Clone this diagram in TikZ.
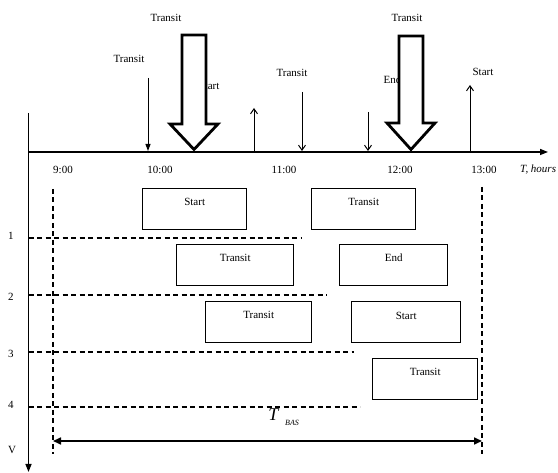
\documentclass[tikz,border=0pt]{standalone}
\usepackage{fontspec}
\setmainfont{Liberation Serif}
\usetikzlibrary{arrows.meta}
\begin{document}
\begin{tikzpicture}[x=1pt,y=-1pt,
  lbl/.style={inner sep=0pt,font=\fontsize{11}{13}\selectfont},
  boxnode/.style={draw,line width=1.4pt,minimum width=#1,minimum height=41pt,inner sep=0pt,anchor=north west},
  dline/.style={line width=1.2pt,dash pattern=on 5pt off 3.5pt},
  axis/.style={line width=1.4pt,-{Triangle[length=8pt,width=6pt]}},
  openarr/.style={line width=1pt,-{Straight Barb[length=5pt,width=7pt]}},
  fillarr/.style={line width=1pt,-{Triangle[length=7pt,width=5pt]}},
  bigarrow/.style={line width=2.8pt,fill=white,line join=miter},
  dimarr/.style={line width=1.6pt,{Triangle[length=8pt,width=7pt]}-{Triangle[length=8pt,width=7pt]}}
  ]
\useasboundingbox (0,0) rectangle (558,473);

% axes
\coordinate (vtop) at (28.5,113);
\coordinate (vbot) at (28.5,472);
\coordinate (hl) at (28.5,152);
\coordinate (hr) at (548,152);
\draw[axis] (vtop) -- (vbot);
\draw[axis] (hl) -- (hr);

% tick labels
\node[lbl] (t9) at (63,170) {9:00};
\node[lbl] (t10) at (160,170) {10:00};
\node[lbl] (t11) at (284,170) {11:00};
\node[lbl] (t12) at (400,170) {12:00};
\node[lbl] (t13) at (484,170) {13:00};
\node[lbl,anchor=west] (th) at (520,170) {\itshape T, hours};

% row labels
\node[lbl] (r1) at (11,236) {1};
\node[lbl] (r2) at (11,297) {2};
\node[lbl] (r3) at (11,354) {3};
\node[lbl] (r4) at (11,405) {4};
\node[lbl] (rv) at (12,450) {V};

% dashed row lines
\coordinate (d1a) at (28.5,238); \coordinate (d1b) at (302,238);
\coordinate (d2a) at (28.5,295); \coordinate (d2b) at (327,295);
\coordinate (d3a) at (28.5,352); \coordinate (d3b) at (354,352);
\coordinate (d4a) at (28.5,407); \coordinate (d4b) at (360,407);
\draw[dline] (d1a) -- (d1b);
\draw[dline] (d2a) -- (d2b);
\draw[dline] (d3a) -- (d3b);
\draw[dline] (d4a) -- (d4b);

% dashed vertical lines
\coordinate (v9a) at (53,189); \coordinate (v9b) at (53,454);
\coordinate (v13a) at (482,187); \coordinate (v13b) at (482,454);
\draw[dline] (v9a) -- (v9b);
\draw[dline] (v13a) -- (v13b);

% boxes
\node[boxnode=104pt] (b1) at (142,188) {};
\node[lbl] at ([yshift=-14pt]b1.north) {Start};
\node[boxnode=104pt] (b2) at (311,188) {};
\node[lbl] at ([yshift=-14pt]b2.north) {Transit};
\node[boxnode=117pt] (b3) at (176,244) {};
\node[lbl] at ([yshift=-14pt]b3.north) {Transit};
\node[boxnode=108pt] (b4) at (339,244) {};
\node[lbl] at ([yshift=-14pt]b4.north) {End};
\node[boxnode=106pt] (b5) at (205,301) {};
\node[lbl] at ([yshift=-14pt]b5.north) {Transit};
\node[boxnode=109pt] (b6) at (351,301) {};
\node[lbl] at ([yshift=-15pt]b6.north) {Start};
\node[boxnode=105pt] (b7) at (372,358) {};
\node[lbl] at ([yshift=-14pt]b7.north) {Transit};

% T_BAS
\node[inner sep=0pt,font=\fontsize{18}{20}\selectfont\itshape] (tb) at (273.5,415) {T};
\node[inner sep=0pt,font=\fontsize{8}{9}\selectfont\itshape,anchor=west] (bas) at (285,423) {BAS};
\coordinate (tba) at (53,441);
\coordinate (tbb) at (482,441);
\draw[dimarr] (tba) -- (tbb);

% top events
\node[lbl] (l1) at (129,59) {Transit};
\coordinate (e1a) at (148,78); \coordinate (e1b) at (148,151);
\draw[fillarr] (e1a) -- (e1b);

\node[lbl] (l2) at (166,18) {Transit};
\node[lbl] (l3) at (209,86) {Start};
\coordinate (e3a) at (254,152); \coordinate (e3b) at (254,108);
\draw[openarr] (e3a) -- (e3b);

\node[lbl] (l4) at (292,73) {Transit};
\coordinate (e4a) at (302,92); \coordinate (e4b) at (302,151);
\draw[openarr] (e4a) -- (e4b);

\node[lbl] (l5) at (392.5,80) {End};
\coordinate (e5a) at (368,112); \coordinate (e5b) at (368,151);
\draw[openarr] (e5a) -- (e5b);

\node[lbl] (l6) at (407,18) {Transit};
\node[lbl] (l7) at (483,72) {Start};
\coordinate (e7a) at (470,152); \coordinate (e7b) at (470,85);
\draw[openarr] (e7a) -- (e7b);

% big hollow arrows
\draw[bigarrow] (182,35) -- (206,35) -- (206,124) -- (218,124) -- (194,149.5) -- (170,124) -- (182,124) -- cycle;
\draw[bigarrow] (399,36) -- (423,36) -- (423,123) -- (435,123) -- (411,149.5) -- (387,123) -- (399,123) -- cycle;

\end{tikzpicture}
\end{document}
